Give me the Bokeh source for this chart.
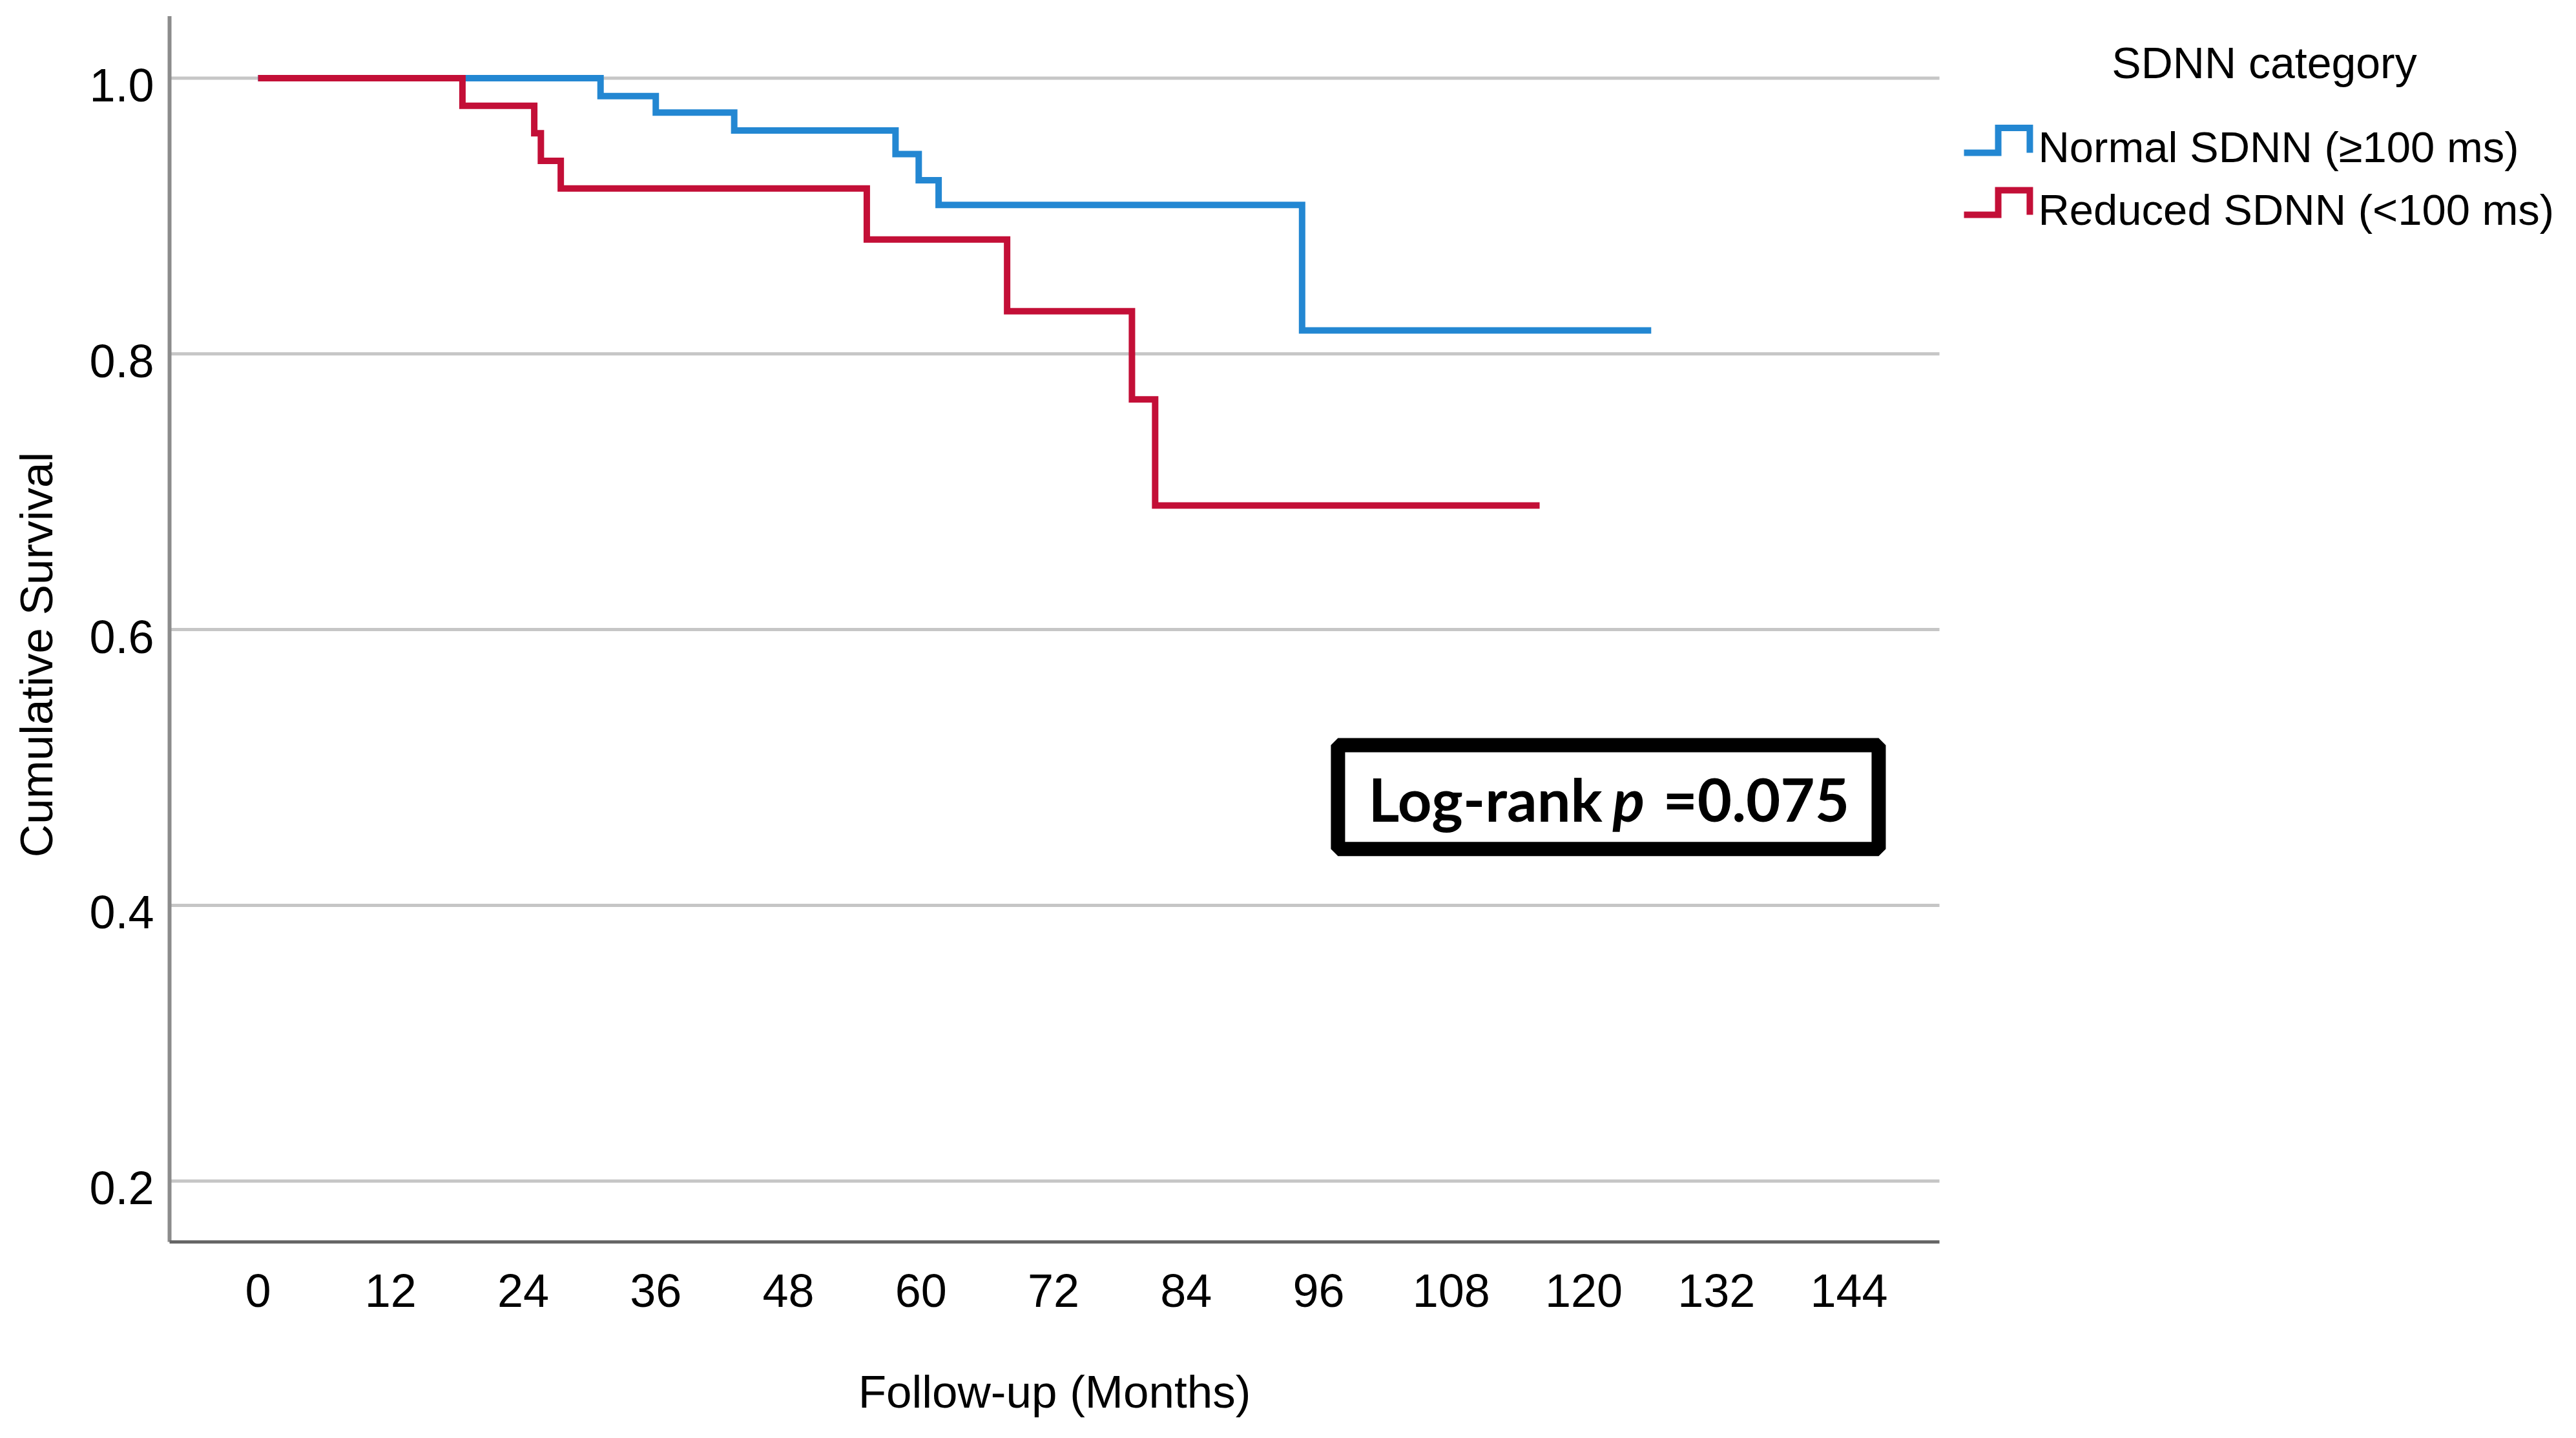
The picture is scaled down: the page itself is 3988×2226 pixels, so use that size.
import math
from bokeh.plotting import figure
from bokeh.models import Range1d, Label, BoxAnnotation, ColumnDataSource
from bokeh.core.properties import value
from bokeh.embed import file_html
from bokeh.resources import INLINE

# ---------------- data ----------------
x_ticks = [0, 12, 24, 36, 48, 60, 72, 84, 96, 108, 120, 132, 144]
x_tick_labels = [str(t) for t in x_ticks]
y_ticks = [0.2, 0.4, 0.6, 0.8, 1.0]
y_tick_labels = ["0.2", "0.4", "0.6", "0.8", "1.0"]

normal_time = [0, 31.0, 36.0, 43.1, 57.7, 59.8, 61.6, 94.5, 126.1]
normal_surv = [1.0, 0.987, 0.975, 0.962, 0.945, 0.926, 0.908, 0.817, 0.817]

reduced_time = [0, 18.5, 25.0, 25.6, 27.4, 55.1, 67.8, 79.1, 81.2, 116.0]
reduced_surv = [1.0, 0.980, 0.960, 0.940, 0.920, 0.883, 0.831, 0.767, 0.690, 0.690]

series_names = ["Normal SDNN (\u2265100 ms)", "Reduced SDNN (<100 ms)"]
series_colors = ["#2387d2", "#c30f37"]
legend_title = "SDNN category"
x_label = "Follow-up (Months)"
y_label = "Cumulative Survival"
logrank_prefix = "Log-rank"
logrank_p_symbol = "p"
logrank_value = "=0.075"

# ---------------- figure (frame = whole canvas, axes drawn by hand) ----------------
X_LO, X_HI = -8.01, 152.19        # plot-area limits (months)
Y_LO, Y_HI = 0.15581, 1.045       # plot-area limits (survival)

p = figure(width=3972, height=2210,
           x_range=Range1d(-23.328, 208.9), y_range=Range1d(0.02085, 1.05647),
           x_axis_location=None, y_axis_location=None, min_border=0,
           toolbar_location=None, output_backend="svg")
p.outline_line_color = None
p.grid.visible = False
p.background_fill_color = "white"
p.border_fill_color = "white"

SPSS_FONT = "Liberation Sans"

# horizontal grid lines at the y ticks
p.segment(x0=[X_LO] * len(y_ticks), x1=[X_HI] * len(y_ticks), y0=y_ticks, y1=y_ticks,
          line_color="#c6c6c6", line_width=5)

# axis lines
p.segment(x0=[X_LO], y0=[Y_LO], x1=[X_LO], y1=[Y_HI], line_color="#8c8c8c", line_width=6)
p.segment(x0=[X_LO], y0=[Y_LO], x1=[X_HI], y1=[Y_LO], line_color="#666666", line_width=5)

# tick labels
p.text(x=[X_LO] * len(y_ticks), y=y_ticks, text=y_tick_labels,
       x_offset=-24, y_offset=11, text_align="right", text_baseline="middle",
       text_font=value(SPSS_FONT), text_font_size="72px", text_color="black")
p.text(x=x_ticks, y=[Y_LO] * len(x_ticks), text=x_tick_labels,
       y_offset=76, text_align="center", text_baseline="middle",
       text_font=value(SPSS_FONT), text_font_size="72px", text_color="black")

# axis titles
p.add_layout(Label(x=(X_LO + X_HI) / 2, y=Y_LO, y_offset=-232, text=x_label,
                   text_font=SPSS_FONT, text_font_size="71px", text_align="center",
                   text_baseline="middle", text_color="black"))
p.add_layout(Label(x=-20.05, y=0.5818, text=y_label, angle=math.pi / 2,
                   text_font=SPSS_FONT, text_font_size="71px", text_align="center",
                   text_baseline="middle", text_color="black"))

# curves
src_n = ColumnDataSource(dict(t=normal_time, s=normal_surv))
src_r = ColumnDataSource(dict(t=reduced_time, s=reduced_surv))
p.step(x="t", y="s", source=src_n, mode="after", line_width=10,
       line_color=series_colors[0], line_join="miter")
p.step(x="t", y="s", source=src_r, mode="after", line_width=10,
       line_color=series_colors[1], line_join="miter")

# ---------------- log-rank box ----------------
p.add_layout(BoxAnnotation(left=97.75, right=146.69, bottom=0.4408, top=0.5162,
                           fill_color="white", fill_alpha=1.0,
                           line_color="black", line_width=22, line_alpha=1.0))
LR_FONT = "Lato"
lr_y = 0.4773
p.add_layout(Label(x=100.5, y=lr_y, text=logrank_prefix, text_font=LR_FONT,
                   text_font_size="92px", text_font_style="bold",
                   text_baseline="middle", text_align="left", text_color="black"))
p.add_layout(Label(x=122.6, y=lr_y, text=logrank_p_symbol, text_font=LR_FONT,
                   text_font_size="92px", text_font_style="bold italic",
                   text_baseline="middle", text_align="left", text_color="black"))
p.add_layout(Label(x=127.16, y=lr_y, text=logrank_value, text_font=LR_FONT,
                   text_font_size="92px", text_font_style="bold",
                   text_baseline="middle", text_align="left", text_color="black"))

# ---------------- legend ----------------
p.add_layout(Label(x=181.6, y=1.01125, text=legend_title, text_font=SPSS_FONT,
                   text_font_size="68px", text_align="center", text_baseline="middle",
                   text_color="black"))
legend_text_y = [0.95033, 0.90487]
icon_low = [0.94588, 0.9009]
icon_high = [0.96392, 0.9187]
ix0, ix1, ix2 = 154.41, 157.51, 160.37
for name, col, ty, lo, hi in zip(series_names, series_colors, legend_text_y, icon_low, icon_high):
    p.add_layout(Label(x=161.13, y=ty, text=name, text_font=SPSS_FONT,
                       text_font_size="67px", text_align="left", text_baseline="middle",
                       text_color="black"))
    p.line(x=[ix0, ix1, ix1, ix2, ix2], y=[lo, lo, hi, hi, lo],
           line_color=col, line_width=10, line_join="miter")

open("out.html", "w").write(file_html(p, INLINE))
